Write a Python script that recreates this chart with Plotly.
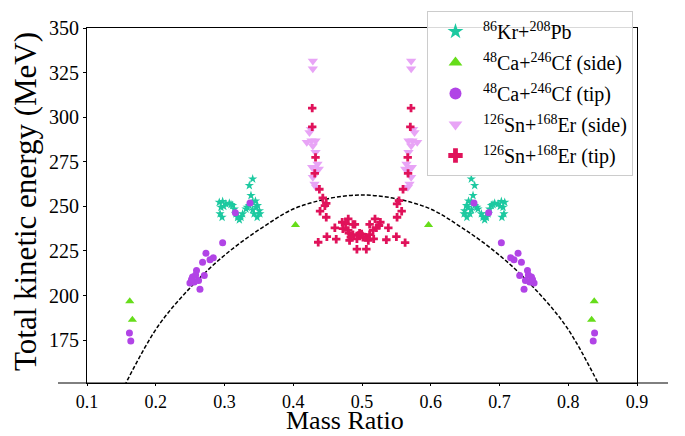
import plotly.graph_objects as go

# ---------------- data ----------------
kr_x = [0.341, 0.3361, 0.3385, 0.2924, 0.2973, 0.3021, 0.307, 0.3118, 0.3142, 0.3167, 0.3191,
        0.3216, 0.324, 0.3264, 0.3313, 0.3361, 0.341, 0.345, 0.348, 0.3507, 0.3515, 0.3475,
        0.343, 0.341, 0.2948, 0.2935, 0.2965, 0.3459, 0.3095, 0.299, 0.32, 0.333,
        0.659, 0.6639, 0.6615, 0.7076, 0.7027, 0.6979, 0.693, 0.6882, 0.6858, 0.6833, 0.6809,
        0.6784, 0.676, 0.6736, 0.6687, 0.6639, 0.659, 0.655, 0.652, 0.6493, 0.6485, 0.6525,
        0.657, 0.659, 0.7052, 0.7065, 0.7035, 0.6541, 0.6905, 0.701, 0.68, 0.667]
kr_y = [265.4, 261.7, 256.1, 252.3, 252.8, 251.4, 251.8, 250.5, 248.5, 245.8, 243.9,
        242.5, 243.9, 245.8, 248.5, 250.5, 252.3, 253.0, 250.5, 247.6, 245.8, 243.9,
        245.8, 248.0, 249.5, 245.8, 243.9, 249.5, 251.0, 250.0, 244.0, 249.5,
        265.4, 261.7, 256.1, 252.3, 252.8, 251.4, 251.8, 250.5, 248.5, 245.8, 243.9,
        242.5, 243.9, 245.8, 248.5, 250.5, 252.3, 253.0, 250.5, 247.6, 245.8, 243.9,
        245.8, 248.0, 249.5, 245.8, 243.9, 249.5, 251.0, 250.0, 244.0, 249.5]

ca_side_x = [0.1622, 0.166, 0.4032, 0.8378, 0.834, 0.5968]
ca_side_y = [196.8, 186.5, 239.6, 196.8, 186.5, 239.6]

ca_tip_x = [0.1617, 0.1637, 0.2497, 0.2535, 0.256, 0.2593, 0.2623, 0.2643, 0.2681, 0.2706,
            0.273, 0.2789, 0.2837, 0.2973, 0.3158, 0.3371, 0.252, 0.258,
            0.8383, 0.8363, 0.7503, 0.7465, 0.744, 0.7407, 0.7377, 0.7357, 0.7319, 0.7294,
            0.727, 0.7211, 0.7163, 0.7027, 0.6842, 0.6629, 0.748, 0.742]
ca_tip_y = [179.0, 174.5, 207.0, 210.4, 207.6, 214.1, 208.5, 203.5, 218.7, 211.3,
            223.8, 220.1, 221.2, 229.6, 246.4, 251.9, 209.0, 211.5,
            179.0, 174.5, 207.0, 210.4, 207.6, 214.1, 208.5, 203.5, 218.7, 211.3,
            223.8, 220.1, 221.2, 229.6, 246.4, 251.9, 209.0, 211.5]

sn_side_x = [0.4285, 0.4285, 0.4256, 0.4236, 0.4197, 0.4265, 0.4324, 0.4285, 0.4324, 0.4275,
             0.4353, 0.4372, 0.4324, 0.4285, 0.4309, 0.4333,
             0.5715, 0.5715, 0.5744, 0.5764, 0.5803, 0.5735, 0.5676, 0.5715, 0.5676, 0.5725,
             0.5647, 0.5628, 0.5676, 0.5715, 0.5691, 0.5667]
sn_side_y = [331.5, 327.2, 293.3, 291.4, 285.9, 286.8, 286.8, 284.0, 280.3, 271.9,
             273.8, 271.0, 270.0, 266.3, 262.6, 260.7,
             331.5, 327.2, 293.3, 291.4, 285.9, 286.8, 286.8, 284.0, 280.3, 271.9,
             273.8, 271.0, 270.0, 266.3, 262.6, 260.7]

sn_tip_x = [0.4276, 0.4276, 0.4324, 0.4313, 0.438, 0.443, 0.448, 0.446, 0.439, 0.448,
            0.5713, 0.5703, 0.5665, 0.567, 0.5597, 0.5538, 0.551, 0.5577, 0.551,
            0.48, 0.4712, 0.4761, 0.4868, 0.5189, 0.5267, 0.5111, 0.4605, 0.4722, 0.48,
            0.4897, 0.4809, 0.4868, 0.4946, 0.4994, 0.5053, 0.5111, 0.516, 0.5209, 0.5248,
            0.5383, 0.4489, 0.4625, 0.4363, 0.4819, 0.4926, 0.5014, 0.5092, 0.517, 0.5354,
            0.55, 0.5627, 0.4926, 0.5063, 0.4838, 0.4965]
sn_tip_y = [305.1, 294.6, 277.5, 268.5, 259.6, 254.7, 251.7, 250.4, 247.3, 243.9,
            305.1, 294.6, 277.5, 268.5, 259.6, 253.2, 251.4, 247.3, 243.9,
            243.0, 241.1, 240.2, 239.9, 243.0, 241.1, 239.9, 238.0, 237.5, 236.5,
            239.9, 235.0, 234.2, 233.7, 234.5, 232.7, 234.2, 236.5, 238.0, 239.3,
            238.0, 233.0, 231.6, 229.9, 230.9, 231.8, 232.7, 230.9, 231.8, 231.3,
            233.0, 229.7, 226.0, 226.0, 232.7, 235.0]

curve_x = [0.155, 0.1588, 0.2025, 0.2511, 0.2997, 0.3556, 0.409, 0.5,
           0.591, 0.6444, 0.7003, 0.7489, 0.7975, 0.8412, 0.845]
curve_y = [149.5, 152.6, 182.4, 204.8, 222.5, 238.3, 249.9, 256.4,
           249.9, 238.3, 222.5, 204.8, 182.4, 152.6, 149.5]

x_ticks = [0.1, 0.2, 0.3, 0.4, 0.5, 0.6, 0.7, 0.8, 0.9]
y_ticks = [175, 200, 225, 250, 275, 300, 325, 350]

names = ["<sup>86</sup>Kr+<sup>208</sup>Pb",
         "<sup>48</sup>Ca+<sup>246</sup>Cf (side)",
         "<sup>48</sup>Ca+<sup>246</sup>Cf (tip)",
         "<sup>126</sup>Sn+<sup>168</sup>Er (side)",
         "<sup>126</sup>Sn+<sup>168</sup>Er (tip)"]
x_title = "Mass Ratio"
y_title = "Total kinetic energy (MeV)"

SERIF = "Liberation Serif"

fig = go.Figure()
fig.add_trace(go.Scatter(x=curve_x, y=curve_y, mode="lines", line_shape="spline",
                         line=dict(color="black", width=1.5, dash="4px,2px"),
                         showlegend=False, hoverinfo="skip"))
specs = [
    (kr_x, kr_y, dict(symbol="star", size=7, color="#1cc9a0")),
    (ca_side_x, ca_side_y, dict(symbol="triangle-up", size=8, color="#66dd1a")),
    (ca_tip_x, ca_tip_y, dict(symbol="circle", size=7, color="#b144e6")),
    (sn_side_x, sn_side_y, dict(symbol="triangle-down", size=9, color="#e8a4f6")),
    (sn_tip_x, sn_tip_y, dict(symbol="cross", size=7, color="#e0125a")),
]
for i, (xs, ys, mk) in enumerate(specs):
    fig.add_trace(go.Scatter(x=xs, y=ys, mode="markers", name=names[i],
                             legendgroup=f"g{i}", marker=mk))

fig.update_layout(
    width=685, height=436,
    margin=dict(l=87, r=48, t=27, b=53),
    plot_bgcolor="white", paper_bgcolor="white",
    font=dict(family=SERIF, color="black"),
    xaxis=dict(range=[0.1, 0.9], tickvals=x_ticks,
               ticktext=[f"{v:.1f}" for v in x_ticks],
               showline=True, mirror=True, linecolor="black", linewidth=1,
               ticks="outside", ticklen=2, tickcolor="black",
               showgrid=False, zeroline=False, automargin=False,
               tickfont=dict(family=SERIF, size=18, color="black")),
    yaxis=dict(range=[151, 350], tickvals=y_ticks,
               showline=True, mirror=True, linecolor="black", linewidth=1,
               ticks="outside", ticklen=3, tickcolor="black",
               showgrid=False, zeroline=False, automargin=False,
               tickfont=dict(family=SERIF, size=20, color="black")),
    legend=dict(x=0.9927, xanchor="right", y=1.045, yanchor="top",
                bgcolor="rgba(255,255,255,0.85)", bordercolor="#cccccc", borderwidth=1,
                font=dict(family=SERIF, size=20, color="black"), itemsizing="constant",
                itemwidth=45, tracegroupgap=2, traceorder="grouped"),
    shapes=[
        dict(type="line", xref="paper", yref="paper", x0=-0.0527, x1=1.0564, y0=0, y1=0,
             line=dict(color="black", width=1)),
    ],
    annotations=[
        dict(text=x_title, xref="paper", yref="paper", x=(345 - 87) / 550, y=0,
             xanchor="center", yanchor="bottom", yshift=-53, showarrow=False,
             borderpad=0, font=dict(family=SERIF, size=26, color="black")),
        dict(text=y_title, xref="paper", yref="paper", x=0, y=0.5,
             xanchor="right", yanchor="middle", xshift=-42, yshift=4, textangle=-90,
             showarrow=False, font=dict(family=SERIF, size=31, color="black")),
    ],
)

fig.write_html("out.html")
